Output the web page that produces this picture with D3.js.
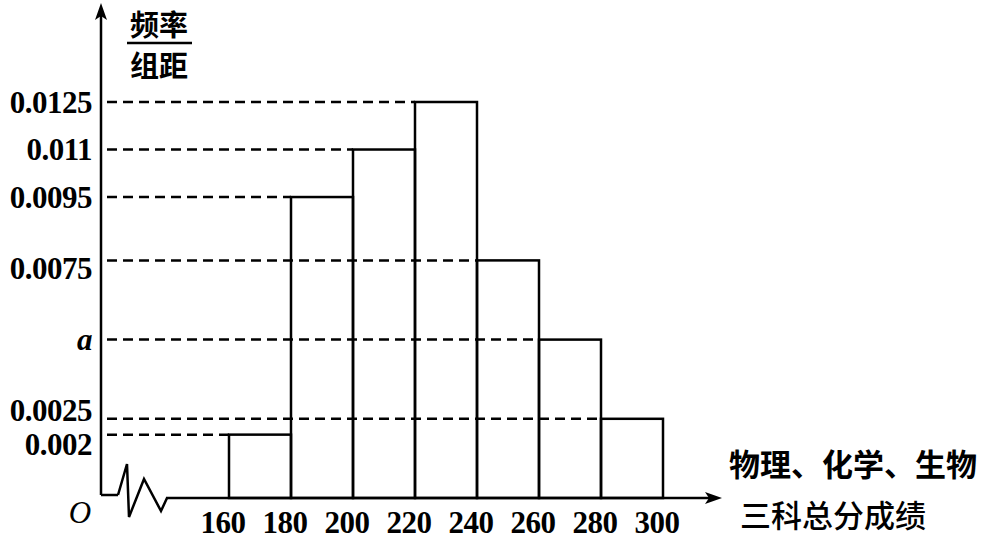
<!DOCTYPE html>
<html><head><meta charset="utf-8">
<script src="https://cdn.jsdelivr.net/npm/d3@7"></script>
<style>body{margin:0;background:#fff}svg{display:block}</style>
</head><body><svg id="c" width="986" height="542"></svg>
<script>
// data
const binStarts = [160, 180, 200, 220, 240, 260, 280];
const binWidth = 20;
const densities = [0.002, 0.0095, 0.011, 0.0125, 0.0075, 0.005, 0.0025];
const xTickValues = [160, 180, 200, 220, 240, 260, 280, 300];
const yTickValues = [0.002, 0.0025, 0.005, 0.0075, 0.0095, 0.011, 0.0125];
const yTickLabels = ["0.002", "0.0025", "a", "0.0075", "0.0095", "0.011", "0.0125"];
const yTitleTop = "频率", yTitleBottom = "组距";
const xTitleTop = "物理、化学、生物", xTitleBottom = "三科总分成绩";

const svg = d3.select("#c");
const x0 = 101, yBase = 498;
const x = d3.scaleLinear().domain([160, 300]).range([229, 663]);
const y = d3.scaleLinear().domain([0, 0.0125]).range([yBase, 102]);
const serif = "'Liberation Serif','Times New Roman',serif";
const cjk = "'Noto Sans CJK SC',sans-serif";

// dashed guide lines from y axis to each bar's top-left corner
const bars = binStarts.map((s, i) => ({s, v: densities[i]}));
svg.append("g").selectAll("line").data(bars).join("line")
  .attr("x1", x0 + 2).attr("x2", d => x(d.s))
  .attr("y1", d => y(d.v)).attr("y2", d => y(d.v))
  .attr("stroke", "#000").attr("stroke-width", 2.5)
  .attr("stroke-dasharray", "10,6").attr("stroke-dashoffset", -4);

// bars
svg.append("g").selectAll("rect").data(bars).join("rect")
  .attr("x", d => x(d.s)).attr("width", d => x(d.s + binWidth) - x(d.s))
  .attr("y", d => y(d.v)).attr("height", d => yBase - y(d.v))
  .attr("fill", "none").attr("stroke", "#000").attr("stroke-width", 2.5);

// axes
const ax = svg.append("g").attr("stroke", "#000").attr("stroke-width", 2.5).attr("fill", "none");
ax.append("line").attr("x1", x0).attr("x2", x0).attr("y1", 495).attr("y2", 14);
ax.append("path").attr("d", d3.line()([[118,495],[127,464],[129,517],[144,479],[161,511],[167,498]]));
ax.append("line").attr("x1", x0).attr("x2", 118).attr("y1", 495).attr("y2", 495);
ax.append("line").attr("x1", 166).attr("x2", 710).attr("y1", yBase).attr("y2", yBase);
svg.append("path").attr("d", "M101,3 L95,20 L101,16 L107,20 Z").attr("fill", "#000");
svg.append("path").attr("d", "M722,498 L705,492 L709,498 L705,504 Z").attr("fill", "#000");

// y tick labels (nudged vertically where close labels would collide)
const nudge = v => v === 0.002 ? 10 : v === 0.0025 ? -9 : v === 0.0075 ? 8 : 0;
svg.append("g").selectAll("text").data(yTickValues).join("text")
  .attr("x", 92).attr("y", d => y(d) + nudge(d)).attr("dy", "0.35em")
  .attr("text-anchor", "end")
  .attr("font-family", serif).attr("font-size", 31).attr("font-weight", "bold")
  .attr("font-style", (d, i) => yTickLabels[i] === "a" ? "italic" : "normal")
  .attr("letter-spacing", -0.5)
  .text((d, i) => yTickLabels[i]);

// x tick labels
svg.append("g").selectAll("text").data(xTickValues).join("text")
  .attr("x", d => x(d) - 6).attr("y", 533)
  .attr("text-anchor", "middle")
  .attr("font-family", serif).attr("font-size", 31).attr("font-weight", "bold")
  .attr("letter-spacing", -0.5)
  .text(d => d);

// origin
svg.append("text").attr("x", 80).attr("y", 523).attr("text-anchor", "middle")
  .attr("font-family", serif).attr("font-size", 31).attr("font-style", "italic").text("O");

// y title
svg.append("text").attr("x", 159).attr("y", 36).attr("text-anchor", "middle")
  .attr("font-family", cjk).attr("font-size", 29).attr("font-weight", "bold").text(yTitleTop);
svg.append("line").attr("x1", 127).attr("x2", 192).attr("y1", 43).attr("y2", 43)
  .attr("stroke", "#000").attr("stroke-width", 2.5);
svg.append("text").attr("x", 159).attr("y", 77).attr("text-anchor", "middle")
  .attr("font-family", cjk).attr("font-size", 29).attr("font-weight", "bold").text(yTitleBottom);

// x title
svg.append("text").attr("x", 729).attr("y", 476)
  .attr("font-family", cjk).attr("font-size", 31).attr("font-weight", "bold").text(xTitleTop);
svg.append("text").attr("x", 740).attr("y", 527)
  .attr("font-family", cjk).attr("font-size", 31).attr("font-weight", 500).text(xTitleBottom);
</script></body></html>
